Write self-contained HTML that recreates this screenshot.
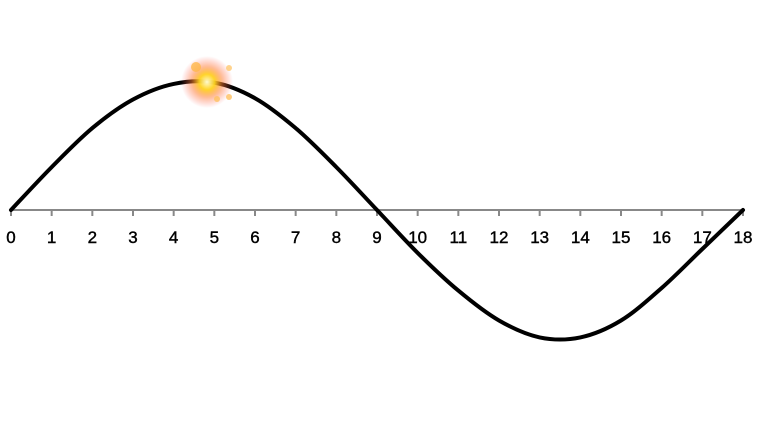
<!DOCTYPE html>
<html><head><meta charset="utf-8"><style>
html,body{margin:0;padding:0;background:#fff;width:766px;height:422px;overflow:hidden}
svg{display:block}
text{font-family:"Liberation Sans",sans-serif;font-size:17px;fill:#000;stroke:#000;stroke-width:0.4}
</style></head><body>
<svg id="chart" width="766" height="422">
<defs>
<radialGradient id="glow" cx="50%" cy="50%" r="50%">
<stop offset="0%" stop-color="#fffbd0" stop-opacity="1"/>
<stop offset="30%" stop-color="#ffd21f" stop-opacity="0.95"/>
<stop offset="60%" stop-color="#ff7a30" stop-opacity="0.5"/>
<stop offset="100%" stop-color="#ff6060" stop-opacity="0"/>
</radialGradient>
</defs>
<g id="axis"></g>
<path id="curve" fill="none" stroke="#000" stroke-width="4" stroke-linejoin="round" stroke-linecap="round"/>
<g>
<circle cx="207" cy="82" r="26" fill="url(#glow)"/>
<circle cx="196" cy="67" r="5" fill="#ffb84a" opacity="0.8"/>
<circle cx="229" cy="68" r="3" fill="#ffc870" opacity="0.8"/>
<circle cx="229" cy="97" r="3" fill="#ffc060" opacity="0.8"/>
<circle cx="217" cy="99" r="3" fill="#ffc060" opacity="0.8"/>
</g>
</svg>
<script>
const categories=[0,1,2,3,4,5,6,7,8,9,10,11,12,13,14,15,16,17,18];
const values=[0,0.33,0.63,0.85,0.97,0.98,0.86,0.63,0.33,0,-0.33,-0.62,-0.85,-0.98,-0.98,-0.85,-0.6,-0.3,0];
const tickLabels=["0","1","2","3","4","5","6","7","8","9","10","11","12","13","14","15","16","17","18"];
const X0=11,X1=743,Y0=210,AMP=130;
const xs=v=>X0+(v-categories[0])*(X1-X0)/(categories[categories.length-1]-categories[0]);
const ys=v=>Y0-v*AMP;
const NS="http://www.w3.org/2000/svg";
const ax=document.getElementById('axis');
const line=document.createElementNS(NS,'line');
line.setAttribute('x1',X0);line.setAttribute('x2',X1);line.setAttribute('y1',Y0);line.setAttribute('y2',Y0);
line.setAttribute('stroke','#888');line.setAttribute('stroke-width','2');


ax.appendChild(line);
categories.forEach((c,i)=>{
 const t=document.createElementNS(NS,'line');
 t.setAttribute('x1',xs(c));t.setAttribute('x2',xs(c));t.setAttribute('y1',Y0);t.setAttribute('y2',Y0+6);
 t.setAttribute('stroke','#888');t.setAttribute('stroke-width','2');
 
 
 ax.appendChild(t);
 const tx=document.createElementNS(NS,'text');
 tx.setAttribute('x',xs(c));tx.setAttribute('y',243);tx.setAttribute('text-anchor','middle');
 tx.textContent=tickLabels[i];
 
 
 ax.appendChild(tx);
});
const pts=categories.map((c,i)=>[xs(c),ys(values[i])]);
let d='M'+pts[0][0]+','+pts[0][1];
for(let i=0;i<pts.length-1;i++){
 const p0=pts[Math.max(0,i-1)],p1=pts[i],p2=pts[i+1],p3=pts[Math.min(pts.length-1,i+2)];
 const c1=[p1[0]+(p2[0]-p0[0])/6,p1[1]+(p2[1]-p0[1])/6];
 const c2=[p2[0]-(p3[0]-p1[0])/6,p2[1]-(p3[1]-p1[1])/6];
 d+=` C${c1[0]},${c1[1]} ${c2[0]},${c2[1]} ${p2[0]},${p2[1]}`;
}
document.getElementById('curve').setAttribute('d',d);
</script>
</body></html>
